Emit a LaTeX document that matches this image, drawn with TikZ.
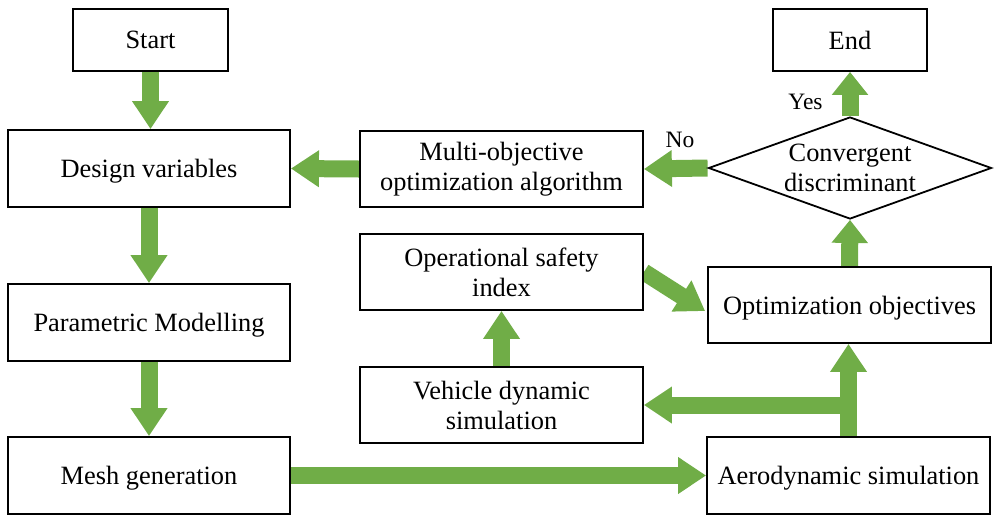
\documentclass[tikz,border=0pt]{standalone}
\usepackage{fontspec}
\setmainfont{Liberation Serif}
\usetikzlibrary{arrows.meta,shapes.geometric,backgrounds,calc}
\definecolor{arrgreen}{RGB}{112,173,71}
\begin{document}
\begin{tikzpicture}[x=1pt,y=-1pt,
  box/.style={draw=black, line width=1.8pt, fill=white, inner sep=0pt, minimum width=283pt, minimum height=77pt, align=center, font=\fontsize{26.4}{30}\selectfont},
  oneline/.style={text depth=0pt},
  diam/.style={draw=black, line width=1.8pt, fill=white, shape=diamond, inner sep=0pt, minimum width=283pt, minimum height=102pt},
  dtext/.style={inner sep=0pt, align=center, font=\fontsize{26.4}{30}\selectfont},
  lbl/.style={inner sep=0pt, font=\fontsize{23.5}{27}\selectfont},
  fat/.style={draw=arrgreen, line width=17pt, -{Triangle[width=35pt,length=28pt]}},
  fatshort/.style={draw=arrgreen, line width=17pt, -{Triangle[width=35pt,length=23pt]}},
]
\useasboundingbox (0,0) rectangle (1003,523);

\node[box, minimum width=155pt, minimum height=62pt] (start) at (150.5,40) {Start};
\node[box, oneline, minimum width=282pt] (design) at (149,168.5) {Design variables};
\node[box, oneline, minimum width=282pt] (param) at (149,322.5) {Parametric Modelling};
\node[box, oneline, minimum width=282pt] (mesh) at (149,475.5) {Mesh generation};
\node[box, minimum height=76pt] (multi) at (501.5,169) {Multi-objective\\optimization algorithm};
\node[box, minimum height=76pt] (oper) at (501.5,272) {Operational safety\\index};
\node[box, minimum height=76pt] (vehicle) at (501.5,405) {Vehicle dynamic\\simulation};
\node[box, oneline, minimum height=76pt] (obj) at (849.5,305) {Optimization objectives};
\node[box, oneline] (aero) at (848.5,475.5) {Aerodynamic simulation};
\node[diam] (conv) at (850,168) {};
\node[dtext] (convtext) at (conv.center) {Convergent\\discriminant};
\node[box, minimum width=154pt, minimum height=62pt] (end) at (850,40) {End};
\node[lbl] (yes) at (805.5,102) {Yes};
\node[lbl] (no) at (680,139.5) {No};

\begin{scope}[on background layer]
\draw[fat] (start.south) -- (start.south |- design.north);
\draw[fat] (design.south) -- (param.north);
\draw[fat] (param.south) -- (mesh.north);
\draw[fat] (mesh.east) -- (aero.west);
\draw[fat] (aero.north) -- (aero.north |- obj.south);
\draw[fat] (aero.north |- vehicle.east) -- (vehicle.east);
\draw[fatshort] (obj.north) -- (conv.south);
\draw[fatshort] (conv.north) -- (end.south);
\draw[fat] (conv.west) -- (multi.east);
\draw[fat] (multi.west) -- (design.east);
\draw[fat] (vehicle.north) -- (oper.south);
\draw[fat] (oper.east) -- ($(obj.west)+(-2,6)$);
\end{scope}
\end{tikzpicture}
\end{document}
